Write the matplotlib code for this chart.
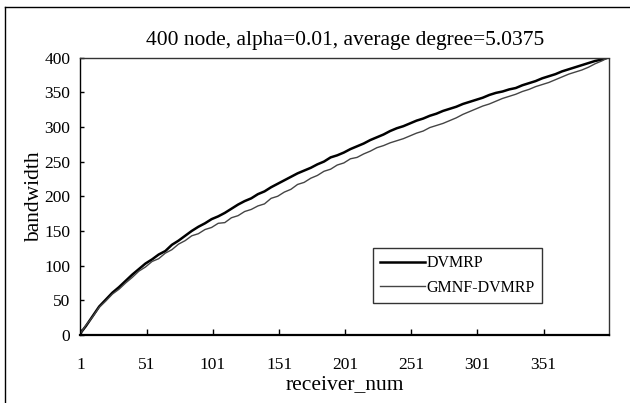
import matplotlib
matplotlib.use("Agg")
import matplotlib.pyplot as plt
from matplotlib.lines import Line2D

title = "400 node, alpha=0.01, average degree=5.0375"
x_label = "receiver_num"
y_label = "bandwidth"
series_names = ["DVMRP", "GMNF-DVMRP"]

receivers = [1] + list(range(5, 401, 5))
dvmrp = [3, 13, 27, 41, 51, 61, 69, 78, 87, 95, 103, 109, 116, 121, 130, 136, 143,
         150, 156, 161, 167, 171, 176, 182, 188, 193, 197, 203, 207, 213, 218, 223,
         228, 233, 237, 241, 246, 250, 256, 259, 263, 268, 272, 276, 281, 285, 289,
         294, 298, 301, 305, 309, 312, 316, 319, 323, 326, 329, 333, 336, 339, 342,
         346, 349, 351, 354, 356, 360, 363, 366, 370, 373, 376, 380, 383, 386, 389,
         392, 395, 397, 400]
gmnf = [3, 14, 26, 40, 49, 59, 66, 75, 83, 92, 98, 106, 110, 118, 123, 131, 136,
        143, 146, 152, 155, 161, 162, 169, 172, 178, 181, 186, 189, 197, 200, 206,
        210, 217, 220, 226, 230, 236, 239, 245, 248, 254, 256, 261, 265, 270, 273,
        277, 280, 283, 287, 291, 294, 299, 302, 305, 309, 313, 318, 322, 326, 330,
        333, 337, 341, 344, 347, 351, 354, 358, 361, 364, 368, 372, 376, 379, 382,
        386, 391, 395, 400]
x_ticks = [1, 51, 101, 151, 201, 251, 301, 351]
y_ticks = [0, 50, 100, 150, 200, 250, 300, 350, 400]

plt.rcParams['font.family'] = ['Liberation Serif', 'DejaVu Serif']

fig = plt.figure(figsize=(6.3, 4.03), dpi=100)
ax = fig.add_axes([80/630, 1-335/403, 529/630, 277.5/403])

ax.plot(receivers, dvmrp, color='black', lw=1.8, label=series_names[0])
ax.plot(receivers, gmnf, color='#444444', lw=1.0, label=series_names[1])

ax.set_xlim(0.5, 400.5)
ax.set_ylim(0, 400)
ax.set_xticks(x_ticks)
ax.set_xticklabels([str(t) for t in x_ticks])
ax.set_yticks(y_ticks)
ax.tick_params(axis='x', direction='in', length=4, width=1, pad=16, labelsize=12.5)
ax.tick_params(axis='y', direction='in', length=3, width=1, pad=7, labelsize=12.5)

for s in ['top', 'right']:
    ax.spines[s].set_linestyle((0, (1, 1)))
    ax.spines[s].set_color('#333333')
    ax.spines[s].set_linewidth(1.0)
ax.spines['left'].set_linewidth(1.0)
ax.spines['bottom'].set_linewidth(1.6)

ax.set_xlabel(x_label, fontsize=15.5, labelpad=1)
ax.set_ylabel(y_label, fontsize=15.5, labelpad=0)
fig.text(345/630, 1-40/403, title, fontsize=15.5, ha='center', va='center')

leg = ax.legend(loc='upper left', bbox_to_anchor=(0.554, 0.3135), fontsize=11.5,
                frameon=True, fancybox=False, handlelength=2.8, handletextpad=0.1,
                borderpad=0.45, labelspacing=0.55, borderaxespad=0)
leg.get_frame().set_edgecolor('black')
leg.get_frame().set_linewidth(1.0)

# outer chart-area border (left and top)
fig.add_artist(Line2D([5/630, 5/630], [0, 1-7/403], transform=fig.transFigure, color='black', lw=1))
fig.add_artist(Line2D([5/630, 1], [1-7/403, 1-7/403], transform=fig.transFigure, color='black', lw=1))

fig.savefig("out.png", dpi=100)
